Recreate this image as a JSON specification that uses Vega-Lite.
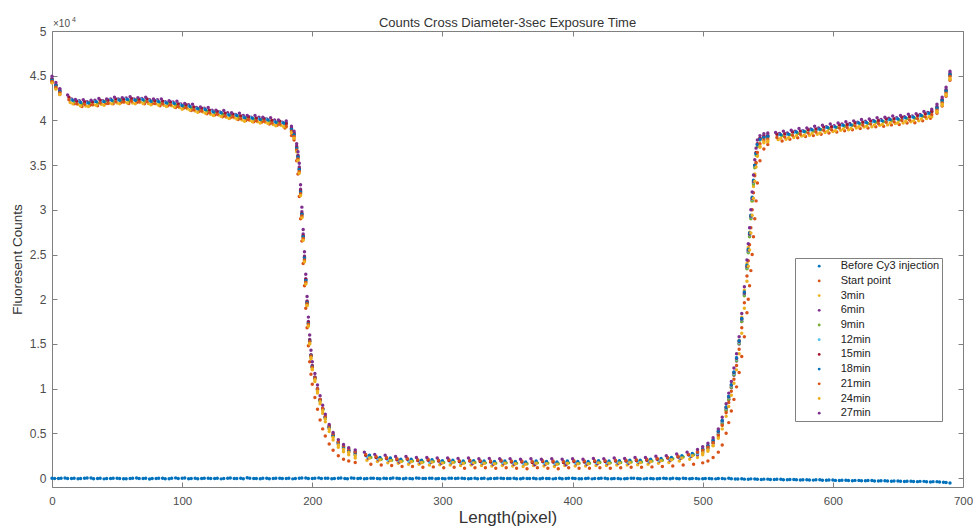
{
"$schema": "https://vega.github.io/schema/vega-lite/v6.json",
"width": 911, "height": 456,
"autosize": "none",
"padding": {"left": 52, "top": 31, "right": 10, "bottom": 42},
"background": "white",
"config": {"font": "Liberation Sans", "view": {"stroke": null}},
"title": {"text": "Counts Cross Diameter-3sec Exposure Time", "fontSize": 13, "fontWeight": "normal", "color": "#333333", "offset": -14, "font": "Liberation Sans"},
"resolve": {"axis": {"x": "independent", "y": "independent"}},
"layer": [
{
"data": {"values": [
{"s":"Before Cy3 injection","x":0,"y":-20},{"s":"Before Cy3 injection","x":5,"y":-60},{"s":"Before Cy3 injection","x":10,"y":10},{"s":"Before Cy3 injection","x":15,"y":-40},{"s":"Before Cy3 injection","x":20,"y":-80},{"s":"Before Cy3 injection","x":25,"y":-30},{"s":"Before Cy3 injection","x":30,"y":0},{"s":"Before Cy3 injection","x":35,"y":-50},{"s":"Before Cy3 injection","x":40,"y":-90},{"s":"Before Cy3 injection","x":45,"y":-40},{"s":"Before Cy3 injection","x":50,"y":-10},{"s":"Before Cy3 injection","x":55,"y":-70},{"s":"Before Cy3 injection","x":60,"y":-50},{"s":"Before Cy3 injection","x":65,"y":0},{"s":"Before Cy3 injection","x":70,"y":-60},{"s":"Before Cy3 injection","x":75,"y":-100},{"s":"Before Cy3 injection","x":80,"y":-40},{"s":"Before Cy3 injection","x":85,"y":-20},{"s":"Before Cy3 injection","x":90,"y":-80},{"s":"Before Cy3 injection","x":95,"y":20},{"s":"Before Cy3 injection","x":100,"y":-30},{"s":"Before Cy3 injection","x":105,"y":-70},{"s":"Before Cy3 injection","x":110,"y":-20},{"s":"Before Cy3 injection","x":115,"y":-60},{"s":"Before Cy3 injection","x":120,"y":-10},{"s":"Before Cy3 injection","x":125,"y":-50},{"s":"Before Cy3 injection","x":130,"y":-90},{"s":"Before Cy3 injection","x":135,"y":-30},{"s":"Before Cy3 injection","x":140,"y":-60},{"s":"Before Cy3 injection","x":145,"y":-20},{"s":"Before Cy3 injection","x":150,"y":40},{"s":"Before Cy3 injection","x":155,"y":-40},{"s":"Before Cy3 injection","x":160,"y":-80},{"s":"Before Cy3 injection","x":165,"y":-30},{"s":"Before Cy3 injection","x":170,"y":-60},{"s":"Before Cy3 injection","x":175,"y":-10},{"s":"Before Cy3 injection","x":180,"y":-50},{"s":"Before Cy3 injection","x":185,"y":-90},{"s":"Before Cy3 injection","x":190,"y":-30},{"s":"Before Cy3 injection","x":195,"y":0},{"s":"Before Cy3 injection","x":200,"y":-40},{"s":"Before Cy3 injection","x":205,"y":20},{"s":"Before Cy3 injection","x":210,"y":-30},{"s":"Before Cy3 injection","x":215,"y":-70},{"s":"Before Cy3 injection","x":220,"y":-20},{"s":"Before Cy3 injection","x":225,"y":-50},{"s":"Before Cy3 injection","x":230,"y":10},{"s":"Before Cy3 injection","x":235,"y":-40},{"s":"Before Cy3 injection","x":240,"y":-80},{"s":"Before Cy3 injection","x":245,"y":-30},{"s":"Before Cy3 injection","x":250,"y":-60},{"s":"Before Cy3 injection","x":255,"y":-10},{"s":"Before Cy3 injection","x":260,"y":-50},{"s":"Before Cy3 injection","x":265,"y":-20},{"s":"Before Cy3 injection","x":270,"y":-70},{"s":"Before Cy3 injection","x":275,"y":-40},{"s":"Before Cy3 injection","x":280,"y":0},{"s":"Before Cy3 injection","x":285,"y":-60},{"s":"Before Cy3 injection","x":290,"y":-30},{"s":"Before Cy3 injection","x":295,"y":-80},{"s":"Before Cy3 injection","x":300,"y":-40},{"s":"Before Cy3 injection","x":305,"y":-10},{"s":"Before Cy3 injection","x":310,"y":-60},{"s":"Before Cy3 injection","x":315,"y":-30},{"s":"Before Cy3 injection","x":320,"y":-70},{"s":"Before Cy3 injection","x":325,"y":-20},{"s":"Before Cy3 injection","x":330,"y":-50},{"s":"Before Cy3 injection","x":335,"y":-90},{"s":"Before Cy3 injection","x":340,"y":-40},{"s":"Before Cy3 injection","x":345,"y":-10},{"s":"Before Cy3 injection","x":350,"y":-60},{"s":"Before Cy3 injection","x":355,"y":-30},{"s":"Before Cy3 injection","x":360,"y":-80},{"s":"Before Cy3 injection","x":365,"y":-40},{"s":"Before Cy3 injection","x":370,"y":-20},{"s":"Before Cy3 injection","x":375,"y":-70},{"s":"Before Cy3 injection","x":380,"y":-50},{"s":"Before Cy3 injection","x":385,"y":-90},{"s":"Before Cy3 injection","x":390,"y":-30},{"s":"Before Cy3 injection","x":395,"y":-60},{"s":"Before Cy3 injection","x":400,"y":-20},{"s":"Before Cy3 injection","x":405,"y":-70},{"s":"Before Cy3 injection","x":410,"y":-40},{"s":"Before Cy3 injection","x":415,"y":-90},{"s":"Before Cy3 injection","x":420,"y":-50},{"s":"Before Cy3 injection","x":425,"y":-30},{"s":"Before Cy3 injection","x":430,"y":-80},{"s":"Before Cy3 injection","x":435,"y":-40},{"s":"Before Cy3 injection","x":440,"y":-70},{"s":"Before Cy3 injection","x":445,"y":-20},{"s":"Before Cy3 injection","x":450,"y":-60},{"s":"Before Cy3 injection","x":455,"y":-90},{"s":"Before Cy3 injection","x":460,"y":-40},{"s":"Before Cy3 injection","x":465,"y":-70},{"s":"Before Cy3 injection","x":470,"y":-30},{"s":"Before Cy3 injection","x":475,"y":-80},{"s":"Before Cy3 injection","x":480,"y":-50},{"s":"Before Cy3 injection","x":485,"y":-20},{"s":"Before Cy3 injection","x":490,"y":-70},{"s":"Before Cy3 injection","x":495,"y":-40},{"s":"Before Cy3 injection","x":500,"y":-80},{"s":"Before Cy3 injection","x":505,"y":-50},{"s":"Before Cy3 injection","x":510,"y":-90},{"s":"Before Cy3 injection","x":515,"y":-60},{"s":"Before Cy3 injection","x":520,"y":-30},{"s":"Before Cy3 injection","x":525,"y":-110},{"s":"Before Cy3 injection","x":530,"y":-80},{"s":"Before Cy3 injection","x":535,"y":-130},{"s":"Before Cy3 injection","x":540,"y":-100},{"s":"Before Cy3 injection","x":545,"y":-150},{"s":"Before Cy3 injection","x":550,"y":-120},{"s":"Before Cy3 injection","x":555,"y":-170},{"s":"Before Cy3 injection","x":560,"y":-140},{"s":"Before Cy3 injection","x":565,"y":-190},{"s":"Before Cy3 injection","x":570,"y":-160},{"s":"Before Cy3 injection","x":575,"y":-210},{"s":"Before Cy3 injection","x":580,"y":-180},{"s":"Before Cy3 injection","x":585,"y":-230},{"s":"Before Cy3 injection","x":590,"y":-200},{"s":"Before Cy3 injection","x":595,"y":-250},{"s":"Before Cy3 injection","x":600,"y":-220},{"s":"Before Cy3 injection","x":605,"y":-270},{"s":"Before Cy3 injection","x":610,"y":-240},{"s":"Before Cy3 injection","x":615,"y":-290},{"s":"Before Cy3 injection","x":620,"y":-260},{"s":"Before Cy3 injection","x":625,"y":-310},{"s":"Before Cy3 injection","x":630,"y":-280},{"s":"Before Cy3 injection","x":635,"y":-330},{"s":"Before Cy3 injection","x":640,"y":-300},{"s":"Before Cy3 injection","x":645,"y":-350},{"s":"Before Cy3 injection","x":650,"y":-330},{"s":"Before Cy3 injection","x":655,"y":-380},{"s":"Before Cy3 injection","x":660,"y":-350},{"s":"Before Cy3 injection","x":665,"y":-400},{"s":"Before Cy3 injection","x":670,"y":-370},{"s":"Before Cy3 injection","x":675,"y":-430},{"s":"Before Cy3 injection","x":680,"y":-400},{"s":"Before Cy3 injection","x":685,"y":-480},{"s":"Before Cy3 injection","x":690,"y":-550},
{"s":"Before Cy3 injection","x":2,"y":-40},{"s":"Before Cy3 injection","x":7,"y":-10},{"s":"Before Cy3 injection","x":12,"y":-60},{"s":"Before Cy3 injection","x":17,"y":-20},{"s":"Before Cy3 injection","x":22,"y":-50},{"s":"Before Cy3 injection","x":27,"y":10},{"s":"Before Cy3 injection","x":32,"y":-70},{"s":"Before Cy3 injection","x":37,"y":-30},{"s":"Before Cy3 injection","x":42,"y":-60},{"s":"Before Cy3 injection","x":47,"y":-10},{"s":"Before Cy3 injection","x":52,"y":-40},{"s":"Before Cy3 injection","x":57,"y":-80},{"s":"Before Cy3 injection","x":62,"y":-20},{"s":"Before Cy3 injection","x":67,"y":-50},{"s":"Before Cy3 injection","x":72,"y":-10},{"s":"Before Cy3 injection","x":77,"y":-60},{"s":"Before Cy3 injection","x":82,"y":-30},{"s":"Before Cy3 injection","x":87,"y":-70},{"s":"Before Cy3 injection","x":92,"y":-20},{"s":"Before Cy3 injection","x":97,"y":-50},{"s":"Before Cy3 injection","x":102,"y":0},{"s":"Before Cy3 injection","x":107,"y":-40},{"s":"Before Cy3 injection","x":112,"y":-80},{"s":"Before Cy3 injection","x":117,"y":-30},{"s":"Before Cy3 injection","x":122,"y":-60},{"s":"Before Cy3 injection","x":127,"y":-20},{"s":"Before Cy3 injection","x":132,"y":-50},{"s":"Before Cy3 injection","x":137,"y":10},{"s":"Before Cy3 injection","x":142,"y":-40},{"s":"Before Cy3 injection","x":147,"y":-70},{"s":"Before Cy3 injection","x":152,"y":-10},{"s":"Before Cy3 injection","x":157,"y":-50},{"s":"Before Cy3 injection","x":162,"y":-30},{"s":"Before Cy3 injection","x":167,"y":-80},{"s":"Before Cy3 injection","x":172,"y":-20},{"s":"Before Cy3 injection","x":177,"y":-50},{"s":"Before Cy3 injection","x":182,"y":-20},{"s":"Before Cy3 injection","x":187,"y":-60},{"s":"Before Cy3 injection","x":192,"y":10},{"s":"Before Cy3 injection","x":197,"y":-40},{"s":"Before Cy3 injection","x":202,"y":-10},{"s":"Before Cy3 injection","x":207,"y":-60},{"s":"Before Cy3 injection","x":212,"y":-20},{"s":"Before Cy3 injection","x":217,"y":-50},{"s":"Before Cy3 injection","x":222,"y":0},{"s":"Before Cy3 injection","x":227,"y":-70},{"s":"Before Cy3 injection","x":232,"y":-30},{"s":"Before Cy3 injection","x":237,"y":-10},{"s":"Before Cy3 injection","x":242,"y":-50},{"s":"Before Cy3 injection","x":247,"y":-20},{"s":"Before Cy3 injection","x":252,"y":-80},{"s":"Before Cy3 injection","x":257,"y":-40},{"s":"Before Cy3 injection","x":262,"y":0},{"s":"Before Cy3 injection","x":267,"y":-60},{"s":"Before Cy3 injection","x":272,"y":-30},{"s":"Before Cy3 injection","x":277,"y":-70},{"s":"Before Cy3 injection","x":282,"y":-20},{"s":"Before Cy3 injection","x":287,"y":-50},{"s":"Before Cy3 injection","x":292,"y":-10},{"s":"Before Cy3 injection","x":297,"y":-40},{"s":"Before Cy3 injection","x":302,"y":-70},{"s":"Before Cy3 injection","x":307,"y":-30},{"s":"Before Cy3 injection","x":312,"y":-20},{"s":"Before Cy3 injection","x":317,"y":-60},{"s":"Before Cy3 injection","x":322,"y":-40},{"s":"Before Cy3 injection","x":327,"y":-80},{"s":"Before Cy3 injection","x":332,"y":-30},{"s":"Before Cy3 injection","x":337,"y":-50},{"s":"Before Cy3 injection","x":342,"y":-10},{"s":"Before Cy3 injection","x":347,"y":-60},{"s":"Before Cy3 injection","x":352,"y":-40},{"s":"Before Cy3 injection","x":357,"y":-70},{"s":"Before Cy3 injection","x":362,"y":-20},{"s":"Before Cy3 injection","x":367,"y":-50},{"s":"Before Cy3 injection","x":372,"y":-80},{"s":"Before Cy3 injection","x":377,"y":-30},{"s":"Before Cy3 injection","x":382,"y":-60},{"s":"Before Cy3 injection","x":387,"y":-40},{"s":"Before Cy3 injection","x":392,"y":-70},{"s":"Before Cy3 injection","x":397,"y":-20},{"s":"Before Cy3 injection","x":402,"y":-50},{"s":"Before Cy3 injection","x":407,"y":-80},{"s":"Before Cy3 injection","x":412,"y":-30},{"s":"Before Cy3 injection","x":417,"y":-60},{"s":"Before Cy3 injection","x":422,"y":-20},{"s":"Before Cy3 injection","x":427,"y":-70},{"s":"Before Cy3 injection","x":432,"y":-40},{"s":"Before Cy3 injection","x":437,"y":-90},{"s":"Before Cy3 injection","x":442,"y":-50},{"s":"Before Cy3 injection","x":447,"y":-30},{"s":"Before Cy3 injection","x":452,"y":-70},{"s":"Before Cy3 injection","x":457,"y":-40},{"s":"Before Cy3 injection","x":462,"y":-80},{"s":"Before Cy3 injection","x":467,"y":-50},{"s":"Before Cy3 injection","x":472,"y":-60},{"s":"Before Cy3 injection","x":477,"y":-30},{"s":"Before Cy3 injection","x":482,"y":-80},{"s":"Before Cy3 injection","x":487,"y":-50},{"s":"Before Cy3 injection","x":492,"y":-60},{"s":"Before Cy3 injection","x":497,"y":-90},{"s":"Before Cy3 injection","x":502,"y":-50},{"s":"Before Cy3 injection","x":507,"y":-80},{"s":"Before Cy3 injection","x":512,"y":-60},{"s":"Before Cy3 injection","x":517,"y":-90},{"s":"Before Cy3 injection","x":522,"y":-70},{"s":"Before Cy3 injection","x":527,"y":-100},{"s":"Before Cy3 injection","x":532,"y":-120},{"s":"Before Cy3 injection","x":537,"y":-90},{"s":"Before Cy3 injection","x":542,"y":-140},{"s":"Before Cy3 injection","x":547,"y":-120},{"s":"Before Cy3 injection","x":552,"y":-160},{"s":"Before Cy3 injection","x":557,"y":-140},{"s":"Before Cy3 injection","x":562,"y":-180},{"s":"Before Cy3 injection","x":567,"y":-160},{"s":"Before Cy3 injection","x":572,"y":-200},{"s":"Before Cy3 injection","x":577,"y":-180},{"s":"Before Cy3 injection","x":582,"y":-220},{"s":"Before Cy3 injection","x":587,"y":-200},{"s":"Before Cy3 injection","x":592,"y":-240},{"s":"Before Cy3 injection","x":597,"y":-220},{"s":"Before Cy3 injection","x":602,"y":-260},{"s":"Before Cy3 injection","x":607,"y":-240},{"s":"Before Cy3 injection","x":612,"y":-280},{"s":"Before Cy3 injection","x":617,"y":-260},{"s":"Before Cy3 injection","x":622,"y":-300},{"s":"Before Cy3 injection","x":627,"y":-280},{"s":"Before Cy3 injection","x":632,"y":-320},{"s":"Before Cy3 injection","x":637,"y":-300},{"s":"Before Cy3 injection","x":642,"y":-340},{"s":"Before Cy3 injection","x":647,"y":-320},{"s":"Before Cy3 injection","x":652,"y":-360},{"s":"Before Cy3 injection","x":657,"y":-350},{"s":"Before Cy3 injection","x":662,"y":-390},{"s":"Before Cy3 injection","x":667,"y":-370},{"s":"Before Cy3 injection","x":672,"y":-410},{"s":"Before Cy3 injection","x":677,"y":-400},{"s":"Before Cy3 injection","x":682,"y":-450},{"s":"Before Cy3 injection","x":687,"y":-500},
{"s":"Start point","x":0,"y":44250},{"s":"Start point","x":3,"y":43600},{"s":"Start point","x":6,"y":42900},{"s":"Start point","x":17,"y":41850},{"s":"Start point","x":23,"y":41550},{"s":"Start point","x":29,"y":41700},{"s":"Start point","x":35,"y":41650},{"s":"Start point","x":41,"y":41850},{"s":"Start point","x":47,"y":41850},{"s":"Start point","x":53,"y":42000},{"s":"Start point","x":59,"y":41900},{"s":"Start point","x":65,"y":42000},{"s":"Start point","x":71,"y":41850},{"s":"Start point","x":77,"y":41850},{"s":"Start point","x":83,"y":41650},{"s":"Start point","x":89,"y":41650},{"s":"Start point","x":95,"y":41450},{"s":"Start point","x":101,"y":41350},{"s":"Start point","x":107,"y":41100},{"s":"Start point","x":113,"y":41000},{"s":"Start point","x":119,"y":40750},{"s":"Start point","x":125,"y":40600},{"s":"Start point","x":131,"y":40400},{"s":"Start point","x":137,"y":40300},{"s":"Start point","x":143,"y":40100},{"s":"Start point","x":149,"y":40000},{"s":"Start point","x":155,"y":39850},{"s":"Start point","x":161,"y":39800},{"s":"Start point","x":167,"y":39600},{"s":"Start point","x":173,"y":39450},{"s":"Start point","x":179,"y":39150},{"s":"Start point","x":184,"y":38300},
{"s":"Start point","x":186,"y":37800},{"s":"Start point","x":188,"y":35500},{"s":"Start point","x":189,"y":34000},{"s":"Start point","x":190,"y":31500},{"s":"Start point","x":191,"y":29000},{"s":"Start point","x":192,"y":26500},{"s":"Start point","x":193,"y":24000},{"s":"Start point","x":194,"y":21500},{"s":"Start point","x":195,"y":19000},{"s":"Start point","x":196,"y":16800},{"s":"Start point","x":197,"y":14800},{"s":"Start point","x":198,"y":13000},{"s":"Start point","x":199,"y":11600},{"s":"Start point","x":200,"y":10500},{"s":"Start point","x":202,"y":9000},{"s":"Start point","x":204,"y":7700},{"s":"Start point","x":206,"y":6500},{"s":"Start point","x":208,"y":5500},{"s":"Start point","x":210,"y":4700},{"s":"Start point","x":213,"y":3800},{"s":"Start point","x":216,"y":3100},{"s":"Start point","x":220,"y":2500},{"s":"Start point","x":224,"y":2100},{"s":"Start point","x":228,"y":1900},
{"s":"Start point","x":233,"y":1750},{"s":"Start point","x":245,"y":1550},{"s":"Start point","x":253,"y":1450},{"s":"Start point","x":261,"y":1400},{"s":"Start point","x":269,"y":1300},{"s":"Start point","x":277,"y":1300},{"s":"Start point","x":285,"y":1200},{"s":"Start point","x":293,"y":1250},{"s":"Start point","x":301,"y":1150},{"s":"Start point","x":309,"y":1200},{"s":"Start point","x":317,"y":1100},{"s":"Start point","x":325,"y":1150},{"s":"Start point","x":333,"y":1150},{"s":"Start point","x":341,"y":1100},{"s":"Start point","x":349,"y":1150},{"s":"Start point","x":357,"y":1100},{"s":"Start point","x":365,"y":1050},{"s":"Start point","x":373,"y":1150},{"s":"Start point","x":381,"y":1100},{"s":"Start point","x":389,"y":1050},{"s":"Start point","x":397,"y":1150},{"s":"Start point","x":405,"y":1100},{"s":"Start point","x":413,"y":1100},{"s":"Start point","x":421,"y":1150},{"s":"Start point","x":429,"y":1100},{"s":"Start point","x":437,"y":1150},{"s":"Start point","x":445,"y":1200},{"s":"Start point","x":453,"y":1200},{"s":"Start point","x":461,"y":1250},{"s":"Start point","x":469,"y":1300},{"s":"Start point","x":477,"y":1350},{"s":"Start point","x":485,"y":1450},{"s":"Start point","x":493,"y":1550},
{"s":"Start point","x":500,"y":1700},{"s":"Start point","x":504,"y":1900},{"s":"Start point","x":508,"y":2300},{"s":"Start point","x":512,"y":2900},{"s":"Start point","x":515,"y":3700},{"s":"Start point","x":518,"y":5000},{"s":"Start point","x":520,"y":6200},{"s":"Start point","x":522,"y":7500},{"s":"Start point","x":524,"y":8800},{"s":"Start point","x":526,"y":10200},{"s":"Start point","x":528,"y":11800},{"s":"Start point","x":530,"y":13600},{"s":"Start point","x":532,"y":15800},{"s":"Start point","x":534,"y":18500},{"s":"Start point","x":535,"y":20000},{"s":"Start point","x":536,"y":21500},{"s":"Start point","x":537,"y":23200},{"s":"Start point","x":538,"y":25000},{"s":"Start point","x":539,"y":27000},{"s":"Start point","x":540,"y":29000},{"s":"Start point","x":541,"y":31000},{"s":"Start point","x":542,"y":33000},{"s":"Start point","x":544,"y":35500},{"s":"Start point","x":547,"y":36800},
{"s":"Start point","x":550,"y":37300},{"s":"Start point","x":561,"y":37700},{"s":"Start point","x":567,"y":37900},{"s":"Start point","x":573,"y":38050},{"s":"Start point","x":579,"y":38200},{"s":"Start point","x":585,"y":38300},{"s":"Start point","x":591,"y":38450},{"s":"Start point","x":597,"y":38600},{"s":"Start point","x":603,"y":38700},{"s":"Start point","x":609,"y":38850},{"s":"Start point","x":615,"y":38950},{"s":"Start point","x":621,"y":39100},{"s":"Start point","x":627,"y":39150},{"s":"Start point","x":633,"y":39300},{"s":"Start point","x":639,"y":39350},{"s":"Start point","x":645,"y":39500},{"s":"Start point","x":651,"y":39550},{"s":"Start point","x":657,"y":39700},{"s":"Start point","x":663,"y":39750},{"s":"Start point","x":669,"y":39950},{"s":"Start point","x":675,"y":40250},{"s":"Start point","x":680,"y":40800},{"s":"Start point","x":684,"y":41600},{"s":"Start point","x":687,"y":42700},{"s":"Start point","x":690,"y":44500},
{"s":"3min","x":0,"y":44300},{"s":"3min","x":3,"y":43550},{"s":"3min","x":6,"y":43000},{"s":"3min","x":14,"y":42000},{"s":"3min","x":20,"y":41800},{"s":"3min","x":26,"y":41600},{"s":"3min","x":32,"y":41750},{"s":"3min","x":38,"y":41800},{"s":"3min","x":44,"y":41950},{"s":"3min","x":50,"y":41950},{"s":"3min","x":56,"y":42050},{"s":"3min","x":62,"y":41950},{"s":"3min","x":68,"y":42050},{"s":"3min","x":74,"y":41900},{"s":"3min","x":80,"y":41850},{"s":"3min","x":86,"y":41700},{"s":"3min","x":92,"y":41650},{"s":"3min","x":98,"y":41450},{"s":"3min","x":104,"y":41300},{"s":"3min","x":110,"y":41050},{"s":"3min","x":116,"y":40950},{"s":"3min","x":122,"y":40700},{"s":"3min","x":128,"y":40600},{"s":"3min","x":134,"y":40350},{"s":"3min","x":140,"y":40300},{"s":"3min","x":146,"y":40050},{"s":"3min","x":152,"y":40000},{"s":"3min","x":158,"y":39850},{"s":"3min","x":164,"y":39800},{"s":"3min","x":170,"y":39550},{"s":"3min","x":176,"y":39450},{"s":"3min","x":180,"y":39250},{"s":"3min","x":184,"y":38700},
{"s":"3min","x":186,"y":38100},{"s":"3min","x":188,"y":36600},{"s":"3min","x":189,"y":35600},{"s":"3min","x":190,"y":34200},{"s":"3min","x":191,"y":31700},{"s":"3min","x":192,"y":29200},{"s":"3min","x":193,"y":26700},{"s":"3min","x":194,"y":24300},{"s":"3min","x":195,"y":21800},{"s":"3min","x":196,"y":19300},{"s":"3min","x":197,"y":17000},{"s":"3min","x":198,"y":15000},{"s":"3min","x":199,"y":13350},{"s":"3min","x":200,"y":12100},{"s":"3min","x":202,"y":10800},{"s":"3min","x":204,"y":9500},{"s":"3min","x":206,"y":8300},{"s":"3min","x":208,"y":7250},{"s":"3min","x":210,"y":6300},{"s":"3min","x":213,"y":5200},{"s":"3min","x":216,"y":4250},{"s":"3min","x":220,"y":3450},{"s":"3min","x":224,"y":2950},{"s":"3min","x":228,"y":2600},
{"s":"3min","x":233,"y":2250},{"s":"3min","x":242,"y":2000},{"s":"3min","x":250,"y":1850},{"s":"3min","x":258,"y":1700},{"s":"3min","x":266,"y":1650},{"s":"3min","x":274,"y":1550},{"s":"3min","x":282,"y":1550},{"s":"3min","x":290,"y":1450},{"s":"3min","x":298,"y":1500},{"s":"3min","x":306,"y":1450},{"s":"3min","x":314,"y":1400},{"s":"3min","x":322,"y":1450},{"s":"3min","x":330,"y":1400},{"s":"3min","x":338,"y":1350},{"s":"3min","x":346,"y":1400},{"s":"3min","x":354,"y":1350},{"s":"3min","x":362,"y":1300},{"s":"3min","x":370,"y":1400},{"s":"3min","x":378,"y":1350},{"s":"3min","x":386,"y":1300},{"s":"3min","x":394,"y":1400},{"s":"3min","x":402,"y":1350},{"s":"3min","x":410,"y":1350},{"s":"3min","x":418,"y":1400},{"s":"3min","x":426,"y":1400},{"s":"3min","x":434,"y":1450},{"s":"3min","x":442,"y":1450},{"s":"3min","x":450,"y":1500},{"s":"3min","x":458,"y":1550},{"s":"3min","x":466,"y":1650},{"s":"3min","x":474,"y":1750},{"s":"3min","x":482,"y":1900},{"s":"3min","x":490,"y":2100},{"s":"3min","x":496,"y":2300},
{"s":"3min","x":500,"y":2600},{"s":"3min","x":504,"y":3000},{"s":"3min","x":508,"y":3600},{"s":"3min","x":512,"y":4600},{"s":"3min","x":515,"y":5900},{"s":"3min","x":518,"y":7500},{"s":"3min","x":520,"y":8800},{"s":"3min","x":522,"y":10200},{"s":"3min","x":524,"y":11700},{"s":"3min","x":526,"y":13400},{"s":"3min","x":528,"y":15400},{"s":"3min","x":530,"y":18000},{"s":"3min","x":532,"y":21000},{"s":"3min","x":534,"y":24000},{"s":"3min","x":535,"y":25800},{"s":"3min","x":536,"y":27500},{"s":"3min","x":537,"y":29300},{"s":"3min","x":538,"y":31000},{"s":"3min","x":539,"y":32600},{"s":"3min","x":540,"y":34000},{"s":"3min","x":541,"y":35200},{"s":"3min","x":542,"y":36100},{"s":"3min","x":544,"y":37000},{"s":"3min","x":547,"y":37500},
{"s":"3min","x":550,"y":37600},{"s":"3min","x":558,"y":37850},{"s":"3min","x":564,"y":37900},{"s":"3min","x":570,"y":38100},{"s":"3min","x":576,"y":38250},{"s":"3min","x":582,"y":38350},{"s":"3min","x":588,"y":38450},{"s":"3min","x":594,"y":38650},{"s":"3min","x":600,"y":38750},{"s":"3min","x":606,"y":38900},{"s":"3min","x":612,"y":38950},{"s":"3min","x":618,"y":39150},{"s":"3min","x":624,"y":39250},{"s":"3min","x":630,"y":39300},{"s":"3min","x":636,"y":39450},{"s":"3min","x":642,"y":39500},{"s":"3min","x":648,"y":39650},{"s":"3min","x":654,"y":39700},{"s":"3min","x":660,"y":39850},{"s":"3min","x":666,"y":39950},{"s":"3min","x":672,"y":40200},{"s":"3min","x":676,"y":40400},{"s":"3min","x":680,"y":40900},{"s":"3min","x":684,"y":41700},{"s":"3min","x":687,"y":42800},{"s":"3min","x":690,"y":44600},
{"s":"6min","x":0,"y":44700},{"s":"6min","x":3,"y":44000},{"s":"6min","x":6,"y":43500},{"s":"6min","x":15,"y":42400},{"s":"6min","x":21,"y":42200},{"s":"6min","x":27,"y":42100},{"s":"6min","x":33,"y":42250},{"s":"6min","x":39,"y":42200},{"s":"6min","x":45,"y":42400},{"s":"6min","x":51,"y":42400},{"s":"6min","x":57,"y":42500},{"s":"6min","x":63,"y":42400},{"s":"6min","x":69,"y":42450},{"s":"6min","x":75,"y":42300},{"s":"6min","x":81,"y":42300},{"s":"6min","x":87,"y":42100},{"s":"6min","x":93,"y":42050},{"s":"6min","x":99,"y":41850},{"s":"6min","x":105,"y":41750},{"s":"6min","x":111,"y":41450},{"s":"6min","x":117,"y":41350},{"s":"6min","x":123,"y":41150},{"s":"6min","x":129,"y":40950},{"s":"6min","x":135,"y":40850},{"s":"6min","x":141,"y":40650},{"s":"6min","x":147,"y":40550},{"s":"6min","x":153,"y":40350},{"s":"6min","x":159,"y":40350},{"s":"6min","x":165,"y":40150},{"s":"6min","x":171,"y":40050},{"s":"6min","x":177,"y":39800},{"s":"6min","x":180,"y":39700},{"s":"6min","x":184,"y":39150},
{"s":"6min","x":186,"y":38600},{"s":"6min","x":188,"y":37100},{"s":"6min","x":189,"y":36100},{"s":"6min","x":190,"y":34800},{"s":"6min","x":191,"y":32300},{"s":"6min","x":192,"y":29800},{"s":"6min","x":193,"y":27300},{"s":"6min","x":194,"y":24800},{"s":"6min","x":195,"y":22300},{"s":"6min","x":196,"y":19800},{"s":"6min","x":197,"y":17500},{"s":"6min","x":198,"y":15500},{"s":"6min","x":199,"y":13800},{"s":"6min","x":200,"y":12600},{"s":"6min","x":202,"y":11300},{"s":"6min","x":204,"y":10000},{"s":"6min","x":206,"y":8800},{"s":"6min","x":208,"y":7750},{"s":"6min","x":210,"y":6800},{"s":"6min","x":213,"y":5650},{"s":"6min","x":216,"y":4700},{"s":"6min","x":220,"y":3850},{"s":"6min","x":224,"y":3300},{"s":"6min","x":228,"y":2950},
{"s":"6min","x":233,"y":2600},{"s":"6min","x":243,"y":2250},{"s":"6min","x":251,"y":2050},{"s":"6min","x":259,"y":1950},{"s":"6min","x":267,"y":1800},{"s":"6min","x":275,"y":1800},{"s":"6min","x":283,"y":1700},{"s":"6min","x":291,"y":1750},{"s":"6min","x":299,"y":1650},{"s":"6min","x":307,"y":1700},{"s":"6min","x":315,"y":1650},{"s":"6min","x":323,"y":1600},{"s":"6min","x":331,"y":1650},{"s":"6min","x":339,"y":1550},{"s":"6min","x":347,"y":1600},{"s":"6min","x":355,"y":1550},{"s":"6min","x":363,"y":1600},{"s":"6min","x":371,"y":1500},{"s":"6min","x":379,"y":1550},{"s":"6min","x":387,"y":1550},{"s":"6min","x":395,"y":1500},{"s":"6min","x":403,"y":1600},{"s":"6min","x":411,"y":1550},{"s":"6min","x":419,"y":1600},{"s":"6min","x":427,"y":1600},{"s":"6min","x":435,"y":1650},{"s":"6min","x":443,"y":1650},{"s":"6min","x":451,"y":1750},{"s":"6min","x":459,"y":1800},{"s":"6min","x":467,"y":1900},{"s":"6min","x":475,"y":2000},{"s":"6min","x":483,"y":2200},{"s":"6min","x":491,"y":2400},{"s":"6min","x":496,"y":2600},
{"s":"6min","x":500,"y":2900},{"s":"6min","x":504,"y":3300},{"s":"6min","x":508,"y":3900},{"s":"6min","x":512,"y":4900},{"s":"6min","x":515,"y":6100},{"s":"6min","x":518,"y":7600},{"s":"6min","x":520,"y":8800},{"s":"6min","x":522,"y":10100},{"s":"6min","x":524,"y":11500},{"s":"6min","x":526,"y":13100},{"s":"6min","x":528,"y":15000},{"s":"6min","x":530,"y":17500},{"s":"6min","x":532,"y":20500},{"s":"6min","x":534,"y":23500},{"s":"6min","x":535,"y":25300},{"s":"6min","x":536,"y":27100},{"s":"6min","x":537,"y":29100},{"s":"6min","x":538,"y":31100},{"s":"6min","x":539,"y":33000},{"s":"6min","x":540,"y":34900},{"s":"6min","x":541,"y":36300},{"s":"6min","x":542,"y":37300},{"s":"6min","x":544,"y":38000},{"s":"6min","x":547,"y":38250},
{"s":"6min","x":550,"y":38350},{"s":"6min","x":559,"y":38550},{"s":"6min","x":565,"y":38600},{"s":"6min","x":571,"y":38800},{"s":"6min","x":577,"y":38850},{"s":"6min","x":583,"y":39050},{"s":"6min","x":589,"y":39150},{"s":"6min","x":595,"y":39300},{"s":"6min","x":601,"y":39400},{"s":"6min","x":607,"y":39600},{"s":"6min","x":613,"y":39650},{"s":"6min","x":619,"y":39800},{"s":"6min","x":625,"y":39900},{"s":"6min","x":631,"y":40000},{"s":"6min","x":637,"y":40100},{"s":"6min","x":643,"y":40250},{"s":"6min","x":649,"y":40300},{"s":"6min","x":655,"y":40400},{"s":"6min","x":661,"y":40500},{"s":"6min","x":667,"y":40650},{"s":"6min","x":673,"y":40900},{"s":"6min","x":676,"y":41050},{"s":"6min","x":680,"y":41550},{"s":"6min","x":684,"y":42350},{"s":"6min","x":687,"y":43450},{"s":"6min","x":690,"y":45300},
{"s":"9min","x":0,"y":44500},{"s":"9min","x":3,"y":43850},{"s":"9min","x":6,"y":43200},{"s":"9min","x":17,"y":42150},{"s":"9min","x":23,"y":41850},{"s":"9min","x":29,"y":42000},{"s":"9min","x":35,"y":41950},{"s":"9min","x":41,"y":42150},{"s":"9min","x":47,"y":42150},{"s":"9min","x":53,"y":42300},{"s":"9min","x":59,"y":42200},{"s":"9min","x":65,"y":42300},{"s":"9min","x":71,"y":42150},{"s":"9min","x":77,"y":42150},{"s":"9min","x":83,"y":41950},{"s":"9min","x":89,"y":41950},{"s":"9min","x":95,"y":41750},{"s":"9min","x":101,"y":41650},{"s":"9min","x":107,"y":41400},{"s":"9min","x":113,"y":41300},{"s":"9min","x":119,"y":41050},{"s":"9min","x":125,"y":40900},{"s":"9min","x":131,"y":40700},{"s":"9min","x":137,"y":40600},{"s":"9min","x":143,"y":40400},{"s":"9min","x":149,"y":40300},{"s":"9min","x":155,"y":40150},{"s":"9min","x":161,"y":40100},{"s":"9min","x":167,"y":39900},{"s":"9min","x":173,"y":39800},{"s":"9min","x":179,"y":39550},{"s":"9min","x":184,"y":38950},
{"s":"9min","x":186,"y":38350},{"s":"9min","x":188,"y":36850},{"s":"9min","x":189,"y":35850},{"s":"9min","x":190,"y":34450},{"s":"9min","x":191,"y":31950},{"s":"9min","x":192,"y":29450},{"s":"9min","x":193,"y":26950},{"s":"9min","x":194,"y":24500},{"s":"9min","x":195,"y":22000},{"s":"9min","x":196,"y":19500},{"s":"9min","x":197,"y":17250},{"s":"9min","x":198,"y":15250},{"s":"9min","x":199,"y":13600},{"s":"9min","x":200,"y":12350},{"s":"9min","x":202,"y":11100},{"s":"9min","x":204,"y":9800},{"s":"9min","x":206,"y":8600},{"s":"9min","x":208,"y":7600},{"s":"9min","x":210,"y":6650},{"s":"9min","x":213,"y":5550},{"s":"9min","x":216,"y":4650},{"s":"9min","x":220,"y":3800},{"s":"9min","x":224,"y":3350},{"s":"9min","x":228,"y":3000},
{"s":"9min","x":233,"y":2650},{"s":"9min","x":245,"y":2300},{"s":"9min","x":253,"y":2100},{"s":"9min","x":261,"y":2000},{"s":"9min","x":269,"y":1900},{"s":"9min","x":277,"y":1900},{"s":"9min","x":285,"y":1800},{"s":"9min","x":293,"y":1850},{"s":"9min","x":301,"y":1750},{"s":"9min","x":309,"y":1800},{"s":"9min","x":317,"y":1700},{"s":"9min","x":325,"y":1750},{"s":"9min","x":333,"y":1700},{"s":"9min","x":341,"y":1650},{"s":"9min","x":349,"y":1700},{"s":"9min","x":357,"y":1650},{"s":"9min","x":365,"y":1600},{"s":"9min","x":373,"y":1700},{"s":"9min","x":381,"y":1650},{"s":"9min","x":389,"y":1600},{"s":"9min","x":397,"y":1700},{"s":"9min","x":405,"y":1650},{"s":"9min","x":413,"y":1650},{"s":"9min","x":421,"y":1750},{"s":"9min","x":429,"y":1700},{"s":"9min","x":437,"y":1750},{"s":"9min","x":445,"y":1800},{"s":"9min","x":453,"y":1800},{"s":"9min","x":461,"y":1900},{"s":"9min","x":469,"y":2000},{"s":"9min","x":477,"y":2150},{"s":"9min","x":485,"y":2350},{"s":"9min","x":493,"y":2600},
{"s":"9min","x":500,"y":3000},{"s":"9min","x":504,"y":3400},{"s":"9min","x":508,"y":4000},{"s":"9min","x":512,"y":4950},{"s":"9min","x":515,"y":6150},{"s":"9min","x":518,"y":7650},{"s":"9min","x":520,"y":8850},{"s":"9min","x":522,"y":10150},{"s":"9min","x":524,"y":11550},{"s":"9min","x":526,"y":13150},{"s":"9min","x":528,"y":15050},{"s":"9min","x":530,"y":17500},{"s":"9min","x":532,"y":20400},{"s":"9min","x":534,"y":23400},{"s":"9min","x":535,"y":25200},{"s":"9min","x":536,"y":27000},{"s":"9min","x":537,"y":29000},{"s":"9min","x":538,"y":31000},{"s":"9min","x":539,"y":32900},{"s":"9min","x":540,"y":34700},{"s":"9min","x":541,"y":36100},{"s":"9min","x":542,"y":37100},{"s":"9min","x":544,"y":37800},{"s":"9min","x":547,"y":38050},
{"s":"9min","x":550,"y":38100},{"s":"9min","x":561,"y":38300},{"s":"9min","x":567,"y":38400},{"s":"9min","x":573,"y":38550},{"s":"9min","x":579,"y":38700},{"s":"9min","x":585,"y":38800},{"s":"9min","x":591,"y":38950},{"s":"9min","x":597,"y":39100},{"s":"9min","x":603,"y":39200},{"s":"9min","x":609,"y":39350},{"s":"9min","x":615,"y":39450},{"s":"9min","x":621,"y":39600},{"s":"9min","x":627,"y":39650},{"s":"9min","x":633,"y":39800},{"s":"9min","x":639,"y":39850},{"s":"9min","x":645,"y":40000},{"s":"9min","x":651,"y":40050},{"s":"9min","x":657,"y":40200},{"s":"9min","x":663,"y":40250},{"s":"9min","x":669,"y":40450},{"s":"9min","x":675,"y":40750},{"s":"9min","x":680,"y":41300},{"s":"9min","x":684,"y":42100},{"s":"9min","x":687,"y":43200},{"s":"9min","x":690,"y":45000},
{"s":"12min","x":0,"y":44650},{"s":"12min","x":3,"y":43900},{"s":"12min","x":6,"y":43350},{"s":"12min","x":14,"y":42350},{"s":"12min","x":20,"y":42150},{"s":"12min","x":26,"y":41950},{"s":"12min","x":32,"y":42100},{"s":"12min","x":38,"y":42150},{"s":"12min","x":44,"y":42300},{"s":"12min","x":50,"y":42300},{"s":"12min","x":56,"y":42400},{"s":"12min","x":62,"y":42300},{"s":"12min","x":68,"y":42400},{"s":"12min","x":74,"y":42250},{"s":"12min","x":80,"y":42200},{"s":"12min","x":86,"y":42050},{"s":"12min","x":92,"y":42000},{"s":"12min","x":98,"y":41800},{"s":"12min","x":104,"y":41650},{"s":"12min","x":110,"y":41400},{"s":"12min","x":116,"y":41300},{"s":"12min","x":122,"y":41050},{"s":"12min","x":128,"y":40950},{"s":"12min","x":134,"y":40700},{"s":"12min","x":140,"y":40650},{"s":"12min","x":146,"y":40400},{"s":"12min","x":152,"y":40350},{"s":"12min","x":158,"y":40200},{"s":"12min","x":164,"y":40150},{"s":"12min","x":170,"y":39900},{"s":"12min","x":176,"y":39800},{"s":"12min","x":180,"y":39600},{"s":"12min","x":184,"y":39050},
{"s":"12min","x":186,"y":38450},{"s":"12min","x":188,"y":36950},{"s":"12min","x":189,"y":35950},{"s":"12min","x":190,"y":34550},{"s":"12min","x":191,"y":32050},{"s":"12min","x":192,"y":29550},{"s":"12min","x":193,"y":27050},{"s":"12min","x":194,"y":24650},{"s":"12min","x":195,"y":22150},{"s":"12min","x":196,"y":19650},{"s":"12min","x":197,"y":17350},{"s":"12min","x":198,"y":15350},{"s":"12min","x":199,"y":13700},{"s":"12min","x":200,"y":12450},{"s":"12min","x":202,"y":11200},{"s":"12min","x":204,"y":9900},{"s":"12min","x":206,"y":8700},{"s":"12min","x":208,"y":7700},{"s":"12min","x":210,"y":6750},{"s":"12min","x":213,"y":5650},{"s":"12min","x":216,"y":4750},{"s":"12min","x":220,"y":3900},{"s":"12min","x":224,"y":3400},{"s":"12min","x":228,"y":3050},
{"s":"12min","x":233,"y":2700},{"s":"12min","x":242,"y":2400},{"s":"12min","x":250,"y":2200},{"s":"12min","x":258,"y":2050},{"s":"12min","x":266,"y":2000},{"s":"12min","x":274,"y":1900},{"s":"12min","x":282,"y":1900},{"s":"12min","x":290,"y":1800},{"s":"12min","x":298,"y":1850},{"s":"12min","x":306,"y":1800},{"s":"12min","x":314,"y":1750},{"s":"12min","x":322,"y":1800},{"s":"12min","x":330,"y":1750},{"s":"12min","x":338,"y":1700},{"s":"12min","x":346,"y":1750},{"s":"12min","x":354,"y":1700},{"s":"12min","x":362,"y":1650},{"s":"12min","x":370,"y":1750},{"s":"12min","x":378,"y":1700},{"s":"12min","x":386,"y":1650},{"s":"12min","x":394,"y":1750},{"s":"12min","x":402,"y":1700},{"s":"12min","x":410,"y":1700},{"s":"12min","x":418,"y":1750},{"s":"12min","x":426,"y":1750},{"s":"12min","x":434,"y":1800},{"s":"12min","x":442,"y":1800},{"s":"12min","x":450,"y":1850},{"s":"12min","x":458,"y":1900},{"s":"12min","x":466,"y":2000},{"s":"12min","x":474,"y":2150},{"s":"12min","x":482,"y":2300},{"s":"12min","x":490,"y":2500},{"s":"12min","x":496,"y":2750},
{"s":"12min","x":500,"y":3100},{"s":"12min","x":504,"y":3500},{"s":"12min","x":508,"y":4100},{"s":"12min","x":512,"y":5100},{"s":"12min","x":515,"y":6300},{"s":"12min","x":518,"y":7800},{"s":"12min","x":520,"y":9000},{"s":"12min","x":522,"y":10300},{"s":"12min","x":524,"y":11700},{"s":"12min","x":526,"y":13300},{"s":"12min","x":528,"y":15200},{"s":"12min","x":530,"y":17700},{"s":"12min","x":532,"y":20600},{"s":"12min","x":534,"y":23600},{"s":"12min","x":535,"y":25400},{"s":"12min","x":536,"y":27200},{"s":"12min","x":537,"y":29200},{"s":"12min","x":538,"y":31200},{"s":"12min","x":539,"y":33100},{"s":"12min","x":540,"y":34900},{"s":"12min","x":541,"y":36300},{"s":"12min","x":542,"y":37300},{"s":"12min","x":544,"y":37950},{"s":"12min","x":547,"y":38150},
{"s":"12min","x":550,"y":38250},{"s":"12min","x":558,"y":38400},{"s":"12min","x":564,"y":38450},{"s":"12min","x":570,"y":38650},{"s":"12min","x":576,"y":38800},{"s":"12min","x":582,"y":38900},{"s":"12min","x":588,"y":39000},{"s":"12min","x":594,"y":39200},{"s":"12min","x":600,"y":39300},{"s":"12min","x":606,"y":39450},{"s":"12min","x":612,"y":39500},{"s":"12min","x":618,"y":39700},{"s":"12min","x":624,"y":39800},{"s":"12min","x":630,"y":39850},{"s":"12min","x":636,"y":40000},{"s":"12min","x":642,"y":40050},{"s":"12min","x":648,"y":40200},{"s":"12min","x":654,"y":40250},{"s":"12min","x":660,"y":40400},{"s":"12min","x":666,"y":40500},{"s":"12min","x":672,"y":40750},{"s":"12min","x":676,"y":40950},{"s":"12min","x":680,"y":41450},{"s":"12min","x":684,"y":42250},{"s":"12min","x":687,"y":43350},{"s":"12min","x":690,"y":45150},
{"s":"15min","x":0,"y":44600},{"s":"15min","x":3,"y":43950},{"s":"15min","x":6,"y":43300},{"s":"15min","x":13,"y":42600},{"s":"15min","x":19,"y":42150},{"s":"15min","x":25,"y":42100},{"s":"15min","x":31,"y":42050},{"s":"15min","x":37,"y":42250},{"s":"15min","x":43,"y":42250},{"s":"15min","x":49,"y":42400},{"s":"15min","x":55,"y":42350},{"s":"15min","x":61,"y":42450},{"s":"15min","x":67,"y":42350},{"s":"15min","x":73,"y":42400},{"s":"15min","x":79,"y":42200},{"s":"15min","x":85,"y":42150},{"s":"15min","x":91,"y":42050},{"s":"15min","x":97,"y":41850},{"s":"15min","x":103,"y":41750},{"s":"15min","x":109,"y":41500},{"s":"15min","x":115,"y":41350},{"s":"15min","x":121,"y":41150},{"s":"15min","x":127,"y":41000},{"s":"15min","x":133,"y":40800},{"s":"15min","x":139,"y":40700},{"s":"15min","x":145,"y":40500},{"s":"15min","x":151,"y":40400},{"s":"15min","x":157,"y":40250},{"s":"15min","x":163,"y":40200},{"s":"15min","x":169,"y":40000},{"s":"15min","x":175,"y":39900},{"s":"15min","x":180,"y":39650},{"s":"15min","x":184,"y":39100},
{"s":"15min","x":186,"y":38500},{"s":"15min","x":188,"y":37000},{"s":"15min","x":189,"y":36000},{"s":"15min","x":190,"y":34600},{"s":"15min","x":191,"y":32100},{"s":"15min","x":192,"y":29600},{"s":"15min","x":193,"y":27100},{"s":"15min","x":194,"y":24700},{"s":"15min","x":195,"y":22200},{"s":"15min","x":196,"y":19700},{"s":"15min","x":197,"y":17400},{"s":"15min","x":198,"y":15400},{"s":"15min","x":199,"y":13750},{"s":"15min","x":200,"y":12500},{"s":"15min","x":202,"y":11250},{"s":"15min","x":204,"y":9950},{"s":"15min","x":206,"y":8750},{"s":"15min","x":208,"y":7750},{"s":"15min","x":210,"y":6850},{"s":"15min","x":213,"y":5750},{"s":"15min","x":216,"y":4850},{"s":"15min","x":220,"y":4000},{"s":"15min","x":224,"y":3500},{"s":"15min","x":228,"y":3100},
{"s":"15min","x":233,"y":2850},{"s":"15min","x":241,"y":2550},{"s":"15min","x":249,"y":2300},{"s":"15min","x":257,"y":2200},{"s":"15min","x":265,"y":2050},{"s":"15min","x":273,"y":2100},{"s":"15min","x":281,"y":1950},{"s":"15min","x":289,"y":2000},{"s":"15min","x":297,"y":1900},{"s":"15min","x":305,"y":1950},{"s":"15min","x":313,"y":1850},{"s":"15min","x":321,"y":1900},{"s":"15min","x":329,"y":1850},{"s":"15min","x":337,"y":1800},{"s":"15min","x":345,"y":1900},{"s":"15min","x":353,"y":1800},{"s":"15min","x":361,"y":1800},{"s":"15min","x":369,"y":1750},{"s":"15min","x":377,"y":1850},{"s":"15min","x":385,"y":1800},{"s":"15min","x":393,"y":1750},{"s":"15min","x":401,"y":1850},{"s":"15min","x":409,"y":1800},{"s":"15min","x":417,"y":1850},{"s":"15min","x":425,"y":1850},{"s":"15min","x":433,"y":1900},{"s":"15min","x":441,"y":1900},{"s":"15min","x":449,"y":1950},{"s":"15min","x":457,"y":2000},{"s":"15min","x":465,"y":2100},{"s":"15min","x":473,"y":2250},{"s":"15min","x":481,"y":2350},{"s":"15min","x":489,"y":2600},{"s":"15min","x":496,"y":2900},
{"s":"15min","x":500,"y":3200},{"s":"15min","x":504,"y":3600},{"s":"15min","x":508,"y":4200},{"s":"15min","x":512,"y":5200},{"s":"15min","x":515,"y":6400},{"s":"15min","x":518,"y":7900},{"s":"15min","x":520,"y":9100},{"s":"15min","x":522,"y":10400},{"s":"15min","x":524,"y":11800},{"s":"15min","x":526,"y":13400},{"s":"15min","x":528,"y":15300},{"s":"15min","x":530,"y":17800},{"s":"15min","x":532,"y":20700},{"s":"15min","x":534,"y":23700},{"s":"15min","x":535,"y":25500},{"s":"15min","x":536,"y":27300},{"s":"15min","x":537,"y":29300},{"s":"15min","x":538,"y":31300},{"s":"15min","x":539,"y":33200},{"s":"15min","x":540,"y":35000},{"s":"15min","x":541,"y":36400},{"s":"15min","x":542,"y":37400},{"s":"15min","x":544,"y":38000},{"s":"15min","x":547,"y":38200},
{"s":"15min","x":550,"y":38250},{"s":"15min","x":557,"y":38450},{"s":"15min","x":563,"y":38500},{"s":"15min","x":569,"y":38700},{"s":"15min","x":575,"y":38800},{"s":"15min","x":581,"y":38950},{"s":"15min","x":587,"y":39050},{"s":"15min","x":593,"y":39250},{"s":"15min","x":599,"y":39300},{"s":"15min","x":605,"y":39500},{"s":"15min","x":611,"y":39550},{"s":"15min","x":617,"y":39750},{"s":"15min","x":623,"y":39800},{"s":"15min","x":629,"y":39950},{"s":"15min","x":635,"y":40000},{"s":"15min","x":641,"y":40150},{"s":"15min","x":647,"y":40200},{"s":"15min","x":653,"y":40350},{"s":"15min","x":659,"y":40400},{"s":"15min","x":665,"y":40550},{"s":"15min","x":671,"y":40750},{"s":"15min","x":676,"y":41000},{"s":"15min","x":680,"y":41450},{"s":"15min","x":684,"y":42300},{"s":"15min","x":687,"y":43350},{"s":"15min","x":690,"y":45150},
{"s":"18min","x":0,"y":44500},{"s":"18min","x":3,"y":43900},{"s":"18min","x":6,"y":43250},{"s":"18min","x":16,"y":42250},{"s":"18min","x":22,"y":42000},{"s":"18min","x":28,"y":41950},{"s":"18min","x":34,"y":42100},{"s":"18min","x":40,"y":42100},{"s":"18min","x":46,"y":42250},{"s":"18min","x":52,"y":42250},{"s":"18min","x":58,"y":42350},{"s":"18min","x":64,"y":42250},{"s":"18min","x":70,"y":42300},{"s":"18min","x":76,"y":42150},{"s":"18min","x":82,"y":42100},{"s":"18min","x":88,"y":41950},{"s":"18min","x":94,"y":41900},{"s":"18min","x":100,"y":41650},{"s":"18min","x":106,"y":41550},{"s":"18min","x":112,"y":41300},{"s":"18min","x":118,"y":41200},{"s":"18min","x":124,"y":40950},{"s":"18min","x":130,"y":40850},{"s":"18min","x":136,"y":40600},{"s":"18min","x":142,"y":40550},{"s":"18min","x":148,"y":40300},{"s":"18min","x":154,"y":40250},{"s":"18min","x":160,"y":40100},{"s":"18min","x":166,"y":40050},{"s":"18min","x":172,"y":39800},{"s":"18min","x":178,"y":39700},{"s":"18min","x":184,"y":39000},
{"s":"18min","x":186,"y":38400},{"s":"18min","x":188,"y":36900},{"s":"18min","x":189,"y":35900},{"s":"18min","x":190,"y":34500},{"s":"18min","x":191,"y":32000},{"s":"18min","x":192,"y":29500},{"s":"18min","x":193,"y":27000},{"s":"18min","x":194,"y":24600},{"s":"18min","x":195,"y":22100},{"s":"18min","x":196,"y":19600},{"s":"18min","x":197,"y":17300},{"s":"18min","x":198,"y":15300},{"s":"18min","x":199,"y":13700},{"s":"18min","x":200,"y":12450},{"s":"18min","x":202,"y":11200},{"s":"18min","x":204,"y":9900},{"s":"18min","x":206,"y":8700},{"s":"18min","x":208,"y":7700},{"s":"18min","x":210,"y":6800},{"s":"18min","x":213,"y":5750},{"s":"18min","x":216,"y":4800},{"s":"18min","x":220,"y":4000},{"s":"18min","x":224,"y":3500},{"s":"18min","x":228,"y":3150},
{"s":"18min","x":233,"y":2900},{"s":"18min","x":244,"y":2550},{"s":"18min","x":252,"y":2300},{"s":"18min","x":260,"y":2250},{"s":"18min","x":268,"y":2100},{"s":"18min","x":276,"y":2100},{"s":"18min","x":284,"y":2000},{"s":"18min","x":292,"y":2050},{"s":"18min","x":300,"y":1950},{"s":"18min","x":308,"y":2000},{"s":"18min","x":316,"y":1900},{"s":"18min","x":324,"y":1950},{"s":"18min","x":332,"y":1900},{"s":"18min","x":340,"y":1850},{"s":"18min","x":348,"y":1900},{"s":"18min","x":356,"y":1850},{"s":"18min","x":364,"y":1800},{"s":"18min","x":372,"y":1900},{"s":"18min","x":380,"y":1850},{"s":"18min","x":388,"y":1800},{"s":"18min","x":396,"y":1900},{"s":"18min","x":404,"y":1850},{"s":"18min","x":412,"y":1850},{"s":"18min","x":420,"y":1950},{"s":"18min","x":428,"y":1900},{"s":"18min","x":436,"y":1950},{"s":"18min","x":444,"y":2000},{"s":"18min","x":452,"y":2000},{"s":"18min","x":460,"y":2100},{"s":"18min","x":468,"y":2200},{"s":"18min","x":476,"y":2300},{"s":"18min","x":484,"y":2500},{"s":"18min","x":492,"y":2750},
{"s":"18min","x":500,"y":3250},{"s":"18min","x":504,"y":3650},{"s":"18min","x":508,"y":4250},{"s":"18min","x":512,"y":5250},{"s":"18min","x":515,"y":6450},{"s":"18min","x":518,"y":7950},{"s":"18min","x":520,"y":9150},{"s":"18min","x":522,"y":10450},{"s":"18min","x":524,"y":11850},{"s":"18min","x":526,"y":13450},{"s":"18min","x":528,"y":15350},{"s":"18min","x":530,"y":17850},{"s":"18min","x":532,"y":20800},{"s":"18min","x":534,"y":23800},{"s":"18min","x":535,"y":25600},{"s":"18min","x":536,"y":27400},{"s":"18min","x":537,"y":29400},{"s":"18min","x":538,"y":31400},{"s":"18min","x":539,"y":33300},{"s":"18min","x":540,"y":35000},{"s":"18min","x":541,"y":36300},{"s":"18min","x":542,"y":37300},{"s":"18min","x":544,"y":37900},{"s":"18min","x":547,"y":38100},
{"s":"18min","x":550,"y":38200},{"s":"18min","x":560,"y":38400},{"s":"18min","x":566,"y":38450},{"s":"18min","x":572,"y":38700},{"s":"18min","x":578,"y":38750},{"s":"18min","x":584,"y":38950},{"s":"18min","x":590,"y":39000},{"s":"18min","x":596,"y":39200},{"s":"18min","x":602,"y":39250},{"s":"18min","x":608,"y":39450},{"s":"18min","x":614,"y":39500},{"s":"18min","x":620,"y":39700},{"s":"18min","x":626,"y":39750},{"s":"18min","x":632,"y":39900},{"s":"18min","x":638,"y":39950},{"s":"18min","x":644,"y":40100},{"s":"18min","x":650,"y":40150},{"s":"18min","x":656,"y":40300},{"s":"18min","x":662,"y":40350},{"s":"18min","x":668,"y":40550},{"s":"18min","x":674,"y":40800},{"s":"18min","x":680,"y":41400},{"s":"18min","x":684,"y":42200},{"s":"18min","x":687,"y":43300},{"s":"18min","x":690,"y":45100},
{"s":"21min","x":0,"y":44350},{"s":"21min","x":3,"y":43700},{"s":"21min","x":6,"y":43100},{"s":"21min","x":13,"y":42300},{"s":"21min","x":19,"y":41850},{"s":"21min","x":25,"y":41800},{"s":"21min","x":31,"y":41750},{"s":"21min","x":37,"y":41950},{"s":"21min","x":43,"y":41900},{"s":"21min","x":49,"y":42100},{"s":"21min","x":55,"y":42050},{"s":"21min","x":61,"y":42150},{"s":"21min","x":67,"y":42050},{"s":"21min","x":73,"y":42100},{"s":"21min","x":79,"y":41900},{"s":"21min","x":85,"y":41850},{"s":"21min","x":91,"y":41750},{"s":"21min","x":97,"y":41550},{"s":"21min","x":103,"y":41450},{"s":"21min","x":109,"y":41200},{"s":"21min","x":115,"y":41050},{"s":"21min","x":121,"y":40850},{"s":"21min","x":127,"y":40700},{"s":"21min","x":133,"y":40500},{"s":"21min","x":139,"y":40400},{"s":"21min","x":145,"y":40200},{"s":"21min","x":151,"y":40100},{"s":"21min","x":157,"y":39950},{"s":"21min","x":163,"y":39900},{"s":"21min","x":169,"y":39700},{"s":"21min","x":175,"y":39600},{"s":"21min","x":180,"y":39350},{"s":"21min","x":184,"y":38800},
{"s":"21min","x":186,"y":38200},{"s":"21min","x":188,"y":36700},{"s":"21min","x":189,"y":35700},{"s":"21min","x":190,"y":34300},{"s":"21min","x":191,"y":31800},{"s":"21min","x":192,"y":29300},{"s":"21min","x":193,"y":26800},{"s":"21min","x":194,"y":24400},{"s":"21min","x":195,"y":21900},{"s":"21min","x":196,"y":19500},{"s":"21min","x":197,"y":17200},{"s":"21min","x":198,"y":15250},{"s":"21min","x":199,"y":13650},{"s":"21min","x":200,"y":12400},{"s":"21min","x":202,"y":11200},{"s":"21min","x":204,"y":9950},{"s":"21min","x":206,"y":8800},{"s":"21min","x":208,"y":7800},{"s":"21min","x":210,"y":6900},{"s":"21min","x":213,"y":5850},{"s":"21min","x":216,"y":4950},{"s":"21min","x":220,"y":4100},{"s":"21min","x":224,"y":3600},{"s":"21min","x":228,"y":3250},
{"s":"21min","x":233,"y":2950},{"s":"21min","x":241,"y":2650},{"s":"21min","x":249,"y":2400},{"s":"21min","x":257,"y":2300},{"s":"21min","x":265,"y":2150},{"s":"21min","x":273,"y":2200},{"s":"21min","x":281,"y":2050},{"s":"21min","x":289,"y":2100},{"s":"21min","x":297,"y":2000},{"s":"21min","x":305,"y":2050},{"s":"21min","x":313,"y":1950},{"s":"21min","x":321,"y":2000},{"s":"21min","x":329,"y":1950},{"s":"21min","x":337,"y":1900},{"s":"21min","x":345,"y":2000},{"s":"21min","x":353,"y":1900},{"s":"21min","x":361,"y":1900},{"s":"21min","x":369,"y":1850},{"s":"21min","x":377,"y":1950},{"s":"21min","x":385,"y":1900},{"s":"21min","x":393,"y":1850},{"s":"21min","x":401,"y":1950},{"s":"21min","x":409,"y":1900},{"s":"21min","x":417,"y":1950},{"s":"21min","x":425,"y":1950},{"s":"21min","x":433,"y":2000},{"s":"21min","x":441,"y":2000},{"s":"21min","x":449,"y":2050},{"s":"21min","x":457,"y":2100},{"s":"21min","x":465,"y":2200},{"s":"21min","x":473,"y":2300},{"s":"21min","x":481,"y":2450},{"s":"21min","x":489,"y":2650},{"s":"21min","x":496,"y":2950},
{"s":"21min","x":500,"y":3100},{"s":"21min","x":504,"y":3450},{"s":"21min","x":508,"y":3950},{"s":"21min","x":512,"y":4800},{"s":"21min","x":515,"y":5900},{"s":"21min","x":518,"y":7300},{"s":"21min","x":520,"y":8450},{"s":"21min","x":522,"y":9700},{"s":"21min","x":524,"y":11050},{"s":"21min","x":526,"y":12600},{"s":"21min","x":528,"y":14400},{"s":"21min","x":530,"y":16800},{"s":"21min","x":532,"y":19600},{"s":"21min","x":534,"y":22600},{"s":"21min","x":535,"y":24300},{"s":"21min","x":536,"y":26100},{"s":"21min","x":537,"y":28000},{"s":"21min","x":538,"y":30000},{"s":"21min","x":539,"y":31900},{"s":"21min","x":540,"y":33800},{"s":"21min","x":541,"y":35300},{"s":"21min","x":542,"y":36400},{"s":"21min","x":544,"y":37400},{"s":"21min","x":547,"y":37800},
{"s":"21min","x":550,"y":37900},{"s":"21min","x":557,"y":38100},{"s":"21min","x":563,"y":38150},{"s":"21min","x":569,"y":38350},{"s":"21min","x":575,"y":38450},{"s":"21min","x":581,"y":38600},{"s":"21min","x":587,"y":38700},{"s":"21min","x":593,"y":38900},{"s":"21min","x":599,"y":38950},{"s":"21min","x":605,"y":39150},{"s":"21min","x":611,"y":39200},{"s":"21min","x":617,"y":39400},{"s":"21min","x":623,"y":39450},{"s":"21min","x":629,"y":39600},{"s":"21min","x":635,"y":39650},{"s":"21min","x":641,"y":39800},{"s":"21min","x":647,"y":39850},{"s":"21min","x":653,"y":40000},{"s":"21min","x":659,"y":40050},{"s":"21min","x":665,"y":40200},{"s":"21min","x":671,"y":40400},{"s":"21min","x":676,"y":40650},{"s":"21min","x":680,"y":41150},{"s":"21min","x":684,"y":41950},{"s":"21min","x":687,"y":43050},{"s":"21min","x":690,"y":44900},
{"s":"24min","x":0,"y":44200},{"s":"24min","x":3,"y":43500},{"s":"24min","x":6,"y":42900},{"s":"24min","x":16,"y":41850},{"s":"24min","x":22,"y":41600},{"s":"24min","x":28,"y":41550},{"s":"24min","x":34,"y":41700},{"s":"24min","x":40,"y":41700},{"s":"24min","x":46,"y":41850},{"s":"24min","x":52,"y":41850},{"s":"24min","x":58,"y":41950},{"s":"24min","x":64,"y":41850},{"s":"24min","x":70,"y":41900},{"s":"24min","x":76,"y":41750},{"s":"24min","x":82,"y":41700},{"s":"24min","x":88,"y":41550},{"s":"24min","x":94,"y":41500},{"s":"24min","x":100,"y":41250},{"s":"24min","x":106,"y":41150},{"s":"24min","x":112,"y":40900},{"s":"24min","x":118,"y":40800},{"s":"24min","x":124,"y":40550},{"s":"24min","x":130,"y":40450},{"s":"24min","x":136,"y":40200},{"s":"24min","x":142,"y":40150},{"s":"24min","x":148,"y":39900},{"s":"24min","x":154,"y":39850},{"s":"24min","x":160,"y":39700},{"s":"24min","x":166,"y":39650},{"s":"24min","x":172,"y":39400},{"s":"24min","x":178,"y":39300},{"s":"24min","x":184,"y":38650},
{"s":"24min","x":186,"y":38000},{"s":"24min","x":188,"y":36500},{"s":"24min","x":189,"y":35500},{"s":"24min","x":190,"y":34100},{"s":"24min","x":191,"y":31600},{"s":"24min","x":192,"y":29100},{"s":"24min","x":193,"y":26600},{"s":"24min","x":194,"y":24200},{"s":"24min","x":195,"y":21700},{"s":"24min","x":196,"y":19300},{"s":"24min","x":197,"y":17000},{"s":"24min","x":198,"y":15050},{"s":"24min","x":199,"y":13450},{"s":"24min","x":200,"y":12200},{"s":"24min","x":202,"y":11000},{"s":"24min","x":204,"y":9700},{"s":"24min","x":206,"y":8550},{"s":"24min","x":208,"y":7550},{"s":"24min","x":210,"y":6600},{"s":"24min","x":213,"y":5500},{"s":"24min","x":216,"y":4550},{"s":"24min","x":220,"y":3700},{"s":"24min","x":224,"y":3200},{"s":"24min","x":228,"y":2850},
{"s":"24min","x":233,"y":2500},{"s":"24min","x":244,"y":2250},{"s":"24min","x":252,"y":2050},{"s":"24min","x":260,"y":1950},{"s":"24min","x":268,"y":1850},{"s":"24min","x":276,"y":1850},{"s":"24min","x":284,"y":1750},{"s":"24min","x":292,"y":1800},{"s":"24min","x":300,"y":1700},{"s":"24min","x":308,"y":1750},{"s":"24min","x":316,"y":1650},{"s":"24min","x":324,"y":1700},{"s":"24min","x":332,"y":1650},{"s":"24min","x":340,"y":1600},{"s":"24min","x":348,"y":1650},{"s":"24min","x":356,"y":1600},{"s":"24min","x":364,"y":1550},{"s":"24min","x":372,"y":1650},{"s":"24min","x":380,"y":1600},{"s":"24min","x":388,"y":1550},{"s":"24min","x":396,"y":1650},{"s":"24min","x":404,"y":1600},{"s":"24min","x":412,"y":1600},{"s":"24min","x":420,"y":1700},{"s":"24min","x":428,"y":1650},{"s":"24min","x":436,"y":1700},{"s":"24min","x":444,"y":1750},{"s":"24min","x":452,"y":1750},{"s":"24min","x":460,"y":1850},{"s":"24min","x":468,"y":1950},{"s":"24min","x":476,"y":2050},{"s":"24min","x":484,"y":2250},{"s":"24min","x":492,"y":2500},
{"s":"24min","x":500,"y":2800},{"s":"24min","x":504,"y":3150},{"s":"24min","x":508,"y":3650},{"s":"24min","x":512,"y":4450},{"s":"24min","x":515,"y":5500},{"s":"24min","x":518,"y":6900},{"s":"24min","x":520,"y":8000},{"s":"24min","x":522,"y":9250},{"s":"24min","x":524,"y":10600},{"s":"24min","x":526,"y":12100},{"s":"24min","x":528,"y":13900},{"s":"24min","x":530,"y":16200},{"s":"24min","x":532,"y":19000},{"s":"24min","x":534,"y":22000},{"s":"24min","x":535,"y":23700},{"s":"24min","x":536,"y":25500},{"s":"24min","x":537,"y":27400},{"s":"24min","x":538,"y":29400},{"s":"24min","x":539,"y":31300},{"s":"24min","x":540,"y":33200},{"s":"24min","x":541,"y":34800},{"s":"24min","x":542,"y":36000},{"s":"24min","x":544,"y":37100},{"s":"24min","x":547,"y":37600},
{"s":"24min","x":550,"y":37700},{"s":"24min","x":560,"y":38000},{"s":"24min","x":566,"y":38050},{"s":"24min","x":572,"y":38300},{"s":"24min","x":578,"y":38350},{"s":"24min","x":584,"y":38550},{"s":"24min","x":590,"y":38600},{"s":"24min","x":596,"y":38800},{"s":"24min","x":602,"y":38850},{"s":"24min","x":608,"y":39050},{"s":"24min","x":614,"y":39100},{"s":"24min","x":620,"y":39300},{"s":"24min","x":626,"y":39350},{"s":"24min","x":632,"y":39500},{"s":"24min","x":638,"y":39550},{"s":"24min","x":644,"y":39700},{"s":"24min","x":650,"y":39750},{"s":"24min","x":656,"y":39900},{"s":"24min","x":662,"y":39950},{"s":"24min","x":668,"y":40150},{"s":"24min","x":674,"y":40400},{"s":"24min","x":680,"y":41000},{"s":"24min","x":684,"y":41800},{"s":"24min","x":687,"y":42900},{"s":"24min","x":690,"y":44700},
{"s":"27min","x":0,"y":44950},{"s":"27min","x":3,"y":44250},{"s":"27min","x":6,"y":43550},{"s":"27min","x":12,"y":42850},{"s":"27min","x":18,"y":42350},{"s":"27min","x":24,"y":42300},{"s":"27min","x":30,"y":42250},{"s":"27min","x":36,"y":42450},{"s":"27min","x":42,"y":42400},{"s":"27min","x":48,"y":42600},{"s":"27min","x":54,"y":42550},{"s":"27min","x":60,"y":42650},{"s":"27min","x":66,"y":42550},{"s":"27min","x":72,"y":42600},{"s":"27min","x":78,"y":42400},{"s":"27min","x":84,"y":42400},{"s":"27min","x":90,"y":42200},{"s":"27min","x":96,"y":42150},{"s":"27min","x":102,"y":41900},{"s":"27min","x":108,"y":41800},{"s":"27min","x":114,"y":41500},{"s":"27min","x":120,"y":41450},{"s":"27min","x":126,"y":41150},{"s":"27min","x":132,"y":41100},{"s":"27min","x":138,"y":40850},{"s":"27min","x":144,"y":40800},{"s":"27min","x":150,"y":40550},{"s":"27min","x":156,"y":40550},{"s":"27min","x":162,"y":40350},{"s":"27min","x":168,"y":40300},{"s":"27min","x":174,"y":40050},{"s":"27min","x":180,"y":39950},{"s":"27min","x":184,"y":39350},
{"s":"27min","x":186,"y":38800},{"s":"27min","x":188,"y":37400},{"s":"27min","x":189,"y":36500},{"s":"27min","x":190,"y":35200},{"s":"27min","x":191,"y":32800},{"s":"27min","x":192,"y":30300},{"s":"27min","x":193,"y":27800},{"s":"27min","x":194,"y":25300},{"s":"27min","x":195,"y":22800},{"s":"27min","x":196,"y":20300},{"s":"27min","x":197,"y":18000},{"s":"27min","x":198,"y":16000},{"s":"27min","x":199,"y":14300},{"s":"27min","x":200,"y":13000},{"s":"27min","x":202,"y":11700},{"s":"27min","x":204,"y":10400},{"s":"27min","x":206,"y":9200},{"s":"27min","x":208,"y":8150},{"s":"27min","x":210,"y":7150},{"s":"27min","x":213,"y":6000},{"s":"27min","x":216,"y":5100},{"s":"27min","x":220,"y":4300},{"s":"27min","x":224,"y":3750},{"s":"27min","x":228,"y":3400},
{"s":"27min","x":233,"y":3150},{"s":"27min","x":240,"y":2900},{"s":"27min","x":248,"y":2650},{"s":"27min","x":256,"y":2550},{"s":"27min","x":264,"y":2400},{"s":"27min","x":272,"y":2400},{"s":"27min","x":280,"y":2300},{"s":"27min","x":288,"y":2300},{"s":"27min","x":296,"y":2250},{"s":"27min","x":304,"y":2250},{"s":"27min","x":312,"y":2200},{"s":"27min","x":320,"y":2250},{"s":"27min","x":328,"y":2150},{"s":"27min","x":336,"y":2200},{"s":"27min","x":344,"y":2150},{"s":"27min","x":352,"y":2150},{"s":"27min","x":360,"y":2100},{"s":"27min","x":368,"y":2150},{"s":"27min","x":376,"y":2100},{"s":"27min","x":384,"y":2150},{"s":"27min","x":392,"y":2100},{"s":"27min","x":400,"y":2150},{"s":"27min","x":408,"y":2100},{"s":"27min","x":416,"y":2200},{"s":"27min","x":424,"y":2150},{"s":"27min","x":432,"y":2250},{"s":"27min","x":440,"y":2200},{"s":"27min","x":448,"y":2300},{"s":"27min","x":456,"y":2300},{"s":"27min","x":464,"y":2450},{"s":"27min","x":472,"y":2500},{"s":"27min","x":480,"y":2700},{"s":"27min","x":488,"y":2900},{"s":"27min","x":496,"y":3200},
{"s":"27min","x":500,"y":3500},{"s":"27min","x":504,"y":3900},{"s":"27min","x":508,"y":4500},{"s":"27min","x":512,"y":5500},{"s":"27min","x":515,"y":6800},{"s":"27min","x":518,"y":8300},{"s":"27min","x":520,"y":9500},{"s":"27min","x":522,"y":10800},{"s":"27min","x":524,"y":12300},{"s":"27min","x":526,"y":13900},{"s":"27min","x":528,"y":15800},{"s":"27min","x":530,"y":18400},{"s":"27min","x":532,"y":21400},{"s":"27min","x":534,"y":24400},{"s":"27min","x":535,"y":26200},{"s":"27min","x":536,"y":28000},{"s":"27min","x":537,"y":30000},{"s":"27min","x":538,"y":32000},{"s":"27min","x":539,"y":33900},{"s":"27min","x":540,"y":35600},{"s":"27min","x":541,"y":36900},{"s":"27min","x":542,"y":37800},{"s":"27min","x":544,"y":38300},{"s":"27min","x":547,"y":38500},
{"s":"27min","x":550,"y":38600},{"s":"27min","x":556,"y":38650},{"s":"27min","x":562,"y":38800},{"s":"27min","x":568,"y":38900},{"s":"27min","x":574,"y":39100},{"s":"27min","x":580,"y":39150},{"s":"27min","x":586,"y":39350},{"s":"27min","x":592,"y":39450},{"s":"27min","x":598,"y":39600},{"s":"27min","x":604,"y":39700},{"s":"27min","x":610,"y":39850},{"s":"27min","x":616,"y":39950},{"s":"27min","x":622,"y":40100},{"s":"27min","x":628,"y":40150},{"s":"27min","x":634,"y":40300},{"s":"27min","x":640,"y":40350},{"s":"27min","x":646,"y":40500},{"s":"27min","x":652,"y":40550},{"s":"27min","x":658,"y":40700},{"s":"27min","x":664,"y":40750},{"s":"27min","x":670,"y":41000},{"s":"27min","x":676,"y":41250},{"s":"27min","x":680,"y":41800},{"s":"27min","x":684,"y":42600},{"s":"27min","x":687,"y":43700},{"s":"27min","x":690,"y":45500}
]},
"mark": {"type": "point", "filled": true, "size": 12, "opacity": 1, "strokeWidth": 0},
"encoding": {
"x": {"field": "x", "type": "quantitative", "scale": {"domain": [0, 700], "nice": false, "zero": false},
"axis": {"orient": "bottom", "values": [0,100,200,300,400,500,600,700], "tickSize": -5, "labelPadding": 13, "grid": false, "domainColor": "#808080", "tickColor": "#808080", "labelColor": "#4d4d4d", "labelFontSize": 11.5, "labelFont": "Liberation Sans", "labelFlush": false, "title": "Length(pixel)", "titleFontSize": 17, "titleFontWeight": "normal", "titleColor": "#333333", "titleFont": "Liberation Sans", "titlePadding": 3}},
"y": {"field": "y", "type": "quantitative", "scale": {"domain": [-1000, 50000], "nice": false, "zero": false},
"axis": {"orient": "left", "values": [0,5000,10000,15000,20000,25000,30000,35000,40000,45000,50000], "labelExpr": "'' + datum.value / 10000", "tickSize": -5, "labelPadding": 11, "grid": false, "domainColor": "#808080", "tickColor": "#808080", "labelColor": "#4d4d4d", "labelFontSize": 12, "labelFont": "Liberation Sans", "labelFlush": false, "title": "Fluoresent Counts", "titleFontSize": 13.5, "titleFontWeight": "normal", "titleColor": "#333333", "titleFont": "Liberation Sans", "titlePadding": 5}},
"color": {"field": "s", "type": "nominal",
"scale": {"domain": ["Before Cy3 injection","Start point","3min","6min","9min","12min","15min","18min","21min","24min","27min"], "range": ["#0072BD","#D95319","#EDB120","#7E2F8E","#77AC30","#4DBEEE","#A2142F","#0072BD","#D95319","#EDB120","#7E2F8E"]},
"legend": {"title": null, "orient": "none", "legendX": 743, "legendY": 227, "strokeColor": "#808080", "fillColor": "white", "padding": 2.7, "symbolType": "circle", "symbolSize": 8, "symbolOffset": 16, "labelOffset": 16, "labelFontSize": 11, "labelFont": "Liberation Sans", "labelColor": "#222222", "rowPadding": 2.7, "labelLimit": 200}}
}
},
{
"data": {"values": [{}]},
"mark": {"type": "point", "opacity": 0},
"encoding": {
"x": {"datum": 0, "type": "quantitative", "axis": {"orient": "top", "values": [0,100,200,300,400,500,600,700], "tickSize": -5, "labels": false, "grid": false, "title": null, "domainColor": "#808080", "tickColor": "#808080"}},
"y": {"datum": 0, "type": "quantitative", "axis": {"orient": "right", "values": [0,5000,10000,15000,20000,25000,30000,35000,40000,45000,50000], "tickSize": -5, "labels": false, "grid": false, "title": null, "domainColor": "#808080", "tickColor": "#808080"}}
}
},
{
"data": {"values": [{}]},
"mark": {"type": "text", "text": "×10", "align": "left", "baseline": "alphabetic", "dx": 1, "dy": -4, "fontSize": 10, "font": "Liberation Sans", "color": "#4d4d4d"},
"encoding": {
"x": {"datum": 0, "type": "quantitative", "axis": null},
"y": {"datum": 50000, "type": "quantitative", "axis": null}
}
},
{
"data": {"values": [{}]},
"mark": {"type": "text", "text": "4", "align": "left", "baseline": "alphabetic", "dx": 20, "dy": -9, "fontSize": 7, "font": "Liberation Sans", "color": "#4d4d4d"},
"encoding": {
"x": {"datum": 0, "type": "quantitative", "axis": null},
"y": {"datum": 50000, "type": "quantitative", "axis": null}
}
}
]
}
